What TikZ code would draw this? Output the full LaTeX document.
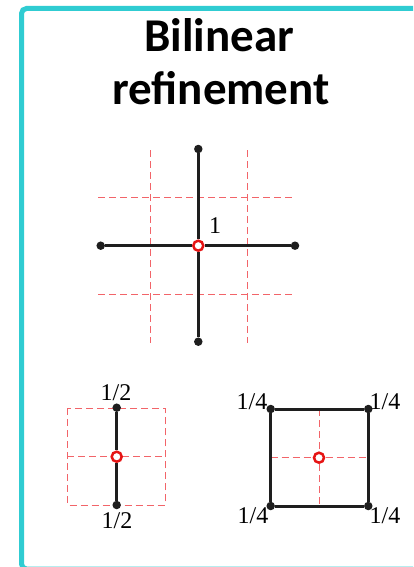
\documentclass[tikz,border=0pt]{standalone}
\usepackage{fontspec}
\setmainfont{Liberation Serif}
\newfontfamily\titlefont{Carlito}
\definecolor{framecyan}{RGB}{48,204,210}
\definecolor{gridred}{RGB}{242,100,105}
\definecolor{ringred}{RGB}{230,20,20}
\definecolor{edgeblack}{RGB}{30,30,30}
\tikzset{
  frame/.style={draw=framecyan, line width=5pt, rounded corners=5pt},
  gridline/.style={draw=gridred, line width=1pt, dash pattern=on 7pt off 4pt},
  edgeline/.style={draw=edgeblack, line width=3pt},
  vtx/.style={circle, fill=edgeblack, inner sep=0pt, minimum size=8.5pt},
  newpt/.style={circle, draw=ringred, fill=white, line width=2.5pt, inner sep=0pt, minimum size=10pt},
  lab/.style={font=\fontsize{24}{28}\selectfont, inner sep=0pt},
  ttl/.style={font=\titlefont\bfseries\fontsize{47}{53}\selectfont, inner sep=0pt, anchor=base}
}
\begin{document}
\begin{tikzpicture}[x=1pt, y=-1pt]
\useasboundingbox (0,0) rectangle (413,567);
\clip (0,0) rectangle (413,567);
\draw[frame] (21.5,8.5) rectangle (420,569);

% title
\node[ttl] (t1) at (219,52) {Bilinear};
\node[ttl] (t2) at (221,105) {refinement};

% top diagram: grid
\draw[gridline] (150.7,150) -- (150.7,343);
\draw[gridline] (247.3,150) -- (247.3,343);
\draw[gridline] (98,197.7) -- (293,197.7);
\draw[gridline] (98,294.3) -- (293,294.3);
% top diagram: stencil
\node[vtx] (ct) at (198.3,149) {};
\node[vtx] (cb) at (198.3,341.7) {};
\node[vtx] (cl) at (100.7,245.7) {};
\node[vtx] (cr) at (295,245.7) {};
\node[newpt] (cc) at (198.3,245.7) {};
\draw[edgeline] (ct) -- (cc);
\draw[edgeline] (cc) -- (cb);
\draw[edgeline] (cl) -- (cc);
\draw[edgeline] (cc) -- (cr);
\node[lab] (l1) at (215,226) {1};

% bottom-left diagram
\draw[gridline] (67.3,408.3) rectangle (165,505);
\draw[gridline] (67.3,456.7) -- (165,456.7);
\node[vtx] (et) at (116.7,407.7) {};
\node[vtx] (eb) at (116.7,505) {};
\node[newpt] (ec) at (116.7,456.7) {};
\draw[edgeline] (et) -- (ec);
\draw[edgeline] (ec) -- (eb);
\node[lab] (l2t) at (116,393) {1/2};
\node[lab] (l2b) at (117,521) {1/2};

% bottom-right diagram
\draw[gridline] (319,409) -- (319,506);
\draw[gridline] (270.7,457.7) -- (368.3,457.7);
\node[vtx] (ftl) at (270.7,409) {};
\node[vtx] (ftr) at (368.3,409) {};
\node[vtx] (fbl) at (270.7,506) {};
\node[vtx] (fbr) at (368.3,506) {};
\node[newpt] (fc) at (319,457.7) {};
\draw[edgeline] (ftl) -- (ftr);
\draw[edgeline] (ftr) -- (fbr);
\draw[edgeline] (fbr) -- (fbl);
\draw[edgeline] (fbl) -- (ftl);
\node[lab] (l4a) at (252,401.7) {1/4};
\node[lab] (l4b) at (385,401.7) {1/4};
\node[lab] (l4c) at (253,516) {1/4};
\node[lab] (l4d) at (385,516) {1/4};
\end{tikzpicture}
\end{document}
